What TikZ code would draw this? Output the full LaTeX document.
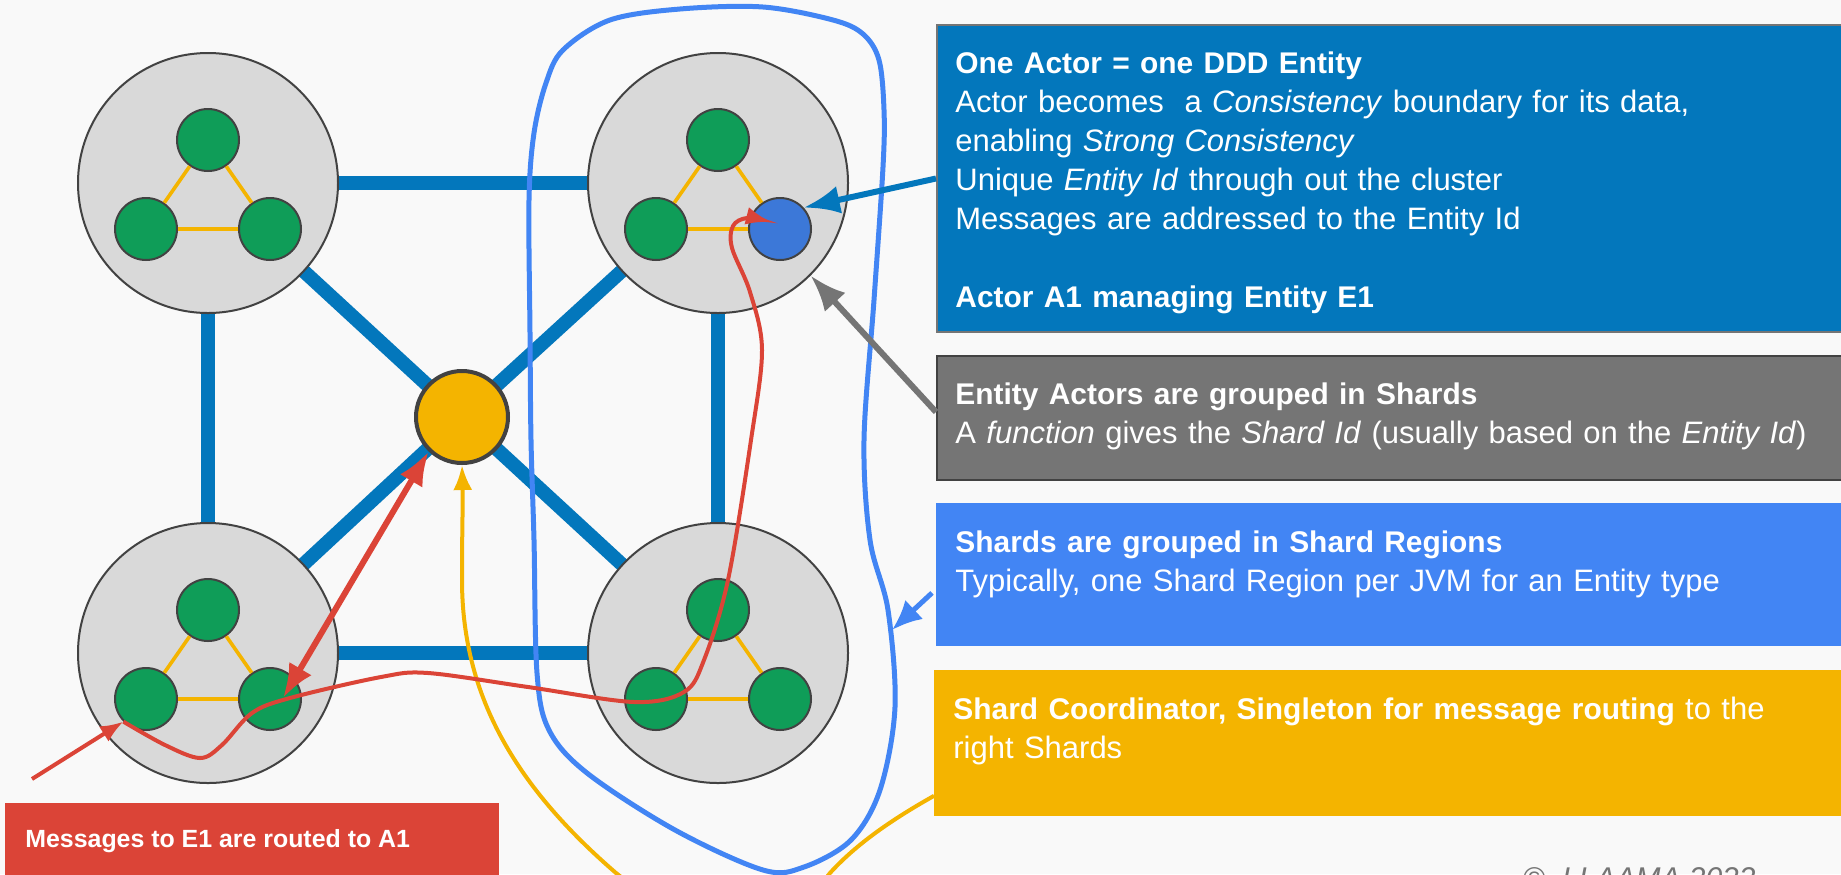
\documentclass[tikz,border=0pt]{standalone}
\usepackage{fontspec}
\setmainfont{Liberation Sans}[BoldFeatures={Scale=0.965}]
\usetikzlibrary{arrows.meta,calc}

\definecolor{paper}{HTML}{F9F9F9}
\definecolor{linkblue}{HTML}{0377BC}
\definecolor{gblue}{HTML}{4285F4}
\definecolor{gred}{HTML}{DB4437}
\definecolor{gyellow}{HTML}{F4B400}
\definecolor{ggreen}{HTML}{0F9D58}
\definecolor{ggray}{HTML}{757575}
\definecolor{jvmfill}{HTML}{D9D9D9}
\definecolor{rim}{HTML}{424242}
\definecolor{entityblue}{HTML}{3C78D8}

\pgfdeclarelayer{canvas}
\pgfdeclarelayer{wires}
\pgfsetlayers{canvas,wires,main}

\begin{document}
\begin{tikzpicture}[x=0.5pt,y=-0.5pt,
  jvm/.style={circle, draw=rim, line width=1pt, fill=jvmfill, minimum size=130pt, inner sep=0pt},
  actor/.style={circle, draw=rim, line width=1pt, fill=ggreen, minimum size=31pt, inner sep=0pt},
  hubnode/.style={circle, draw=rim, line width=2pt, fill=gyellow, minimum size=46pt, inner sep=0pt},
  link/.style={linkblue, line width=7pt},
  peer/.style={gyellow, line width=1.8pt},
  panel/.style={rectangle, anchor=north west, inner sep=0pt, minimum width=455pt},
  paneltext/.style={anchor=base west, inner sep=0pt, text width=445pt, align=left, text=white,
    font=\fontsize{15.5pt}{19.5pt}\selectfont},
  pointer/.style={line width=3pt, -{Latex[length=18pt,width=14pt]}},
  route/.style={gred, line width=2pt},
]
\begin{pgfonlayer}{canvas}
  \fill[paper] (0,0) rectangle (1841,874);
\end{pgfonlayer}
\useasboundingbox (0,0) rectangle (1841,874);
\clip (0,0) rectangle (1841,874);

% four JVMs of the cluster and the coordinator
\node[jvm] (n1) at (208,183) {};
\node[jvm] (n2) at (718,183) {};
\node[jvm] (n3) at (208,653) {};
\node[jvm] (n4) at (718,653) {};
\node[hubnode] (hub) at (462,417) {};

% network links under the nodes
\begin{pgfonlayer}{wires}
  \draw[link] (n1.center) -- (n2.center);
  \draw[link] (n3.center) -- (n4.center);
  \draw[link] (n1.center) -- (n3.center);
  \draw[link] (n2.center) -- (n4.center);
  \foreach \n in {n1,n2,n3,n4} \draw[link] (\n.center) -- (hub.center);
\end{pgfonlayer}

% actors inside each JVM
\node[actor] (a1t) at ($(n1)+(0,-43)$) {};
\node[actor] (a1l) at ($(n1)+(-62,46)$) {};
\node[actor] (a1r) at ($(n1)+(62,46)$) {};
\node[actor] (a2t) at ($(n2)+(0,-43)$) {};
\node[actor] (a2l) at ($(n2)+(-62,46)$) {};
\node[actor, fill=entityblue] (e1) at ($(n2)+(62,46)$) {};
\node[actor] (a3t) at ($(n3)+(0,-43)$) {};
\node[actor] (a3l) at ($(n3)+(-62,46)$) {};
\node[actor] (a3r) at ($(n3)+(62,46)$) {};
\node[actor] (a4t) at ($(n4)+(0,-43)$) {};
\node[actor] (a4l) at ($(n4)+(-62,46)$) {};
\node[actor] (a4r) at ($(n4)+(62,46)$) {};

\draw[peer] (a1t) -- (a1l); \draw[peer] (a1l) -- (a1r); \draw[peer] (a1r) -- (a1t);
\draw[peer] (a2t) -- (a2l); \draw[peer] (a2l) -- (e1);  \draw[peer] (e1) -- (a2t);
\draw[peer] (a3t) -- (a3l); \draw[peer] (a3l) -- (a3r); \draw[peer] (a3r) -- (a3t);
\draw[peer] (a4t) -- (a4l); \draw[peer] (a4l) -- (a4r); \draw[peer] (a4r) -- (a4t);

% shard region outline
\draw[gblue, line width=2.5pt] plot[smooth cycle, tension=0.55] coordinates {
  (763,7) (833,20) (863,34) (879,60) (884,110) (883,167) (874,300) (864,440)
  (870,540) (888,610) (895,707) (880,790) (851,840) (804,867) (763,870)
  (675,830) (587,773) (549,730) (537,673) (534,540) (531,440) (530,333)
  (529,200) (534,133) (546,83) (563,50) (610,20) (680,9)};
\coordinate (regionmark) at (892,630);

% coordinator feedback from the yellow panel
\node[panel, fill=gyellow, minimum width=460pt, minimum height=73pt] (pcoord) at (934,670) {};
\draw[gyellow, line width=2pt, -{Latex[length=12.5pt,width=9.5pt]}]
  ($(pcoord.south west)+(0,-21)$) .. controls (900,815) and (860,840) .. (830,873)
  .. controls (790,925) and (680,925) .. (616,873)
  .. controls (520,790) and (462,700) .. (462,580)
  .. controls (462,530) and (463,500) .. (hub.south);

% message route towards entity E1
\coordinate (src) at (32,779);
\draw[route, line width=2pt, -{Latex[length=11.5pt,width=9pt]}] (src) -- (a3l.225);
\coordinate (e1in) at ($(e1.center)+(-9,-7)$);
\draw[route, -{Latex[length=12.5pt,width=9pt]}] plot[smooth, tension=0.55] coordinates {
  (a3l.225) (165,745) (200,758) (222,745) (252,713) (290,698) (381,677) (428,673)
  (528,687) (634,702) (684,692) (704,660) (728,580) (751,440) (762,350)
  (750,292) (732,248) (733,226) (747,218) (e1in)};
\coordinate (a3rin) at ($(a3r.center)+(13,-1)$);
\draw[gred, line width=3pt, {Latex[length=17pt,width=13pt]}-{Latex[length=17pt,width=13pt]}]
  (hub.226) -- (a3rin);

% explanation panels
\node[panel, fill=linkblue, draw=ggray, line width=1pt, minimum width=460pt, minimum height=153.5pt] (pentity) at (936,24) {};
\node[paneltext] (tentity) at ($(pentity.north west)+(19,49)$) {%
  \textbf{One Actor = one DDD Entity}\\
  Actor becomes\ \ a \textit{Consistency} boundary for its data,\\
  enabling \textit{Strong Consistency}\\
  Unique \textit{Entity Id} through out the cluster\\
  Messages are addressed to the Entity Id\\
  \mbox{}\\
  \textbf{Actor A1 managing Entity E1}};

\node[panel, fill=ggray, draw=rim, line width=1pt, minimum width=460pt, minimum height=62pt] (pshard) at (936,355) {};
\node[paneltext] (tshard) at ($(pshard.north west)+(19,49)$) {%
  \textbf{Entity Actors are grouped in Shards}\\
  A \textit{function} gives the \textit{Shard Id} (usually based on the \textit{Entity Id})};

\node[panel, fill=gblue, minimum width=460pt, minimum height=71.5pt] (pregion) at (936,503) {};
\node[paneltext] (tregion) at ($(pregion.north west)+(19,49)$) {%
  \textbf{Shards are grouped in Shard Regions}\\
  Typically, one Shard Region per JVM for an Entity type};

\node[paneltext] (tcoord) at ($(pcoord.north west)+(19,49)$) {%
  \textbf{Shard Coordinator, Singleton for message routing} to the\\
  right Shards};

\node[panel, fill=gred, minimum width=247pt, minimum height=40pt] (proute) at (5,803) {};
\node[anchor=base west, inner sep=0pt, text=white, font=\fontsize{12.9pt}{15pt}\selectfont\bfseries]
  (troute) at ($(proute.north west)+(20,44)$) {Messages to E1 are routed to A1};

% pointers from the panels
\draw[pointer, linkblue] (pentity.west) -- (e1.42);
\draw[pointer, ggray] ($(pshard.west)+(0,-6)$) -- (n2.-45);
\draw[pointer, gblue, line width=2.5pt, -{Latex[length=15pt,width=13pt]}] ($(pregion.west)+(-4,18)$) -- (regionmark);

% footer
\node[anchor=north west, inner sep=0pt, text=ggray, font=\fontsize{15pt}{18pt}\selectfont\itshape]
  (copy) at (1523,867) {\textup{©}\ \ LLAAMA 2022};
\end{tikzpicture}
\end{document}
